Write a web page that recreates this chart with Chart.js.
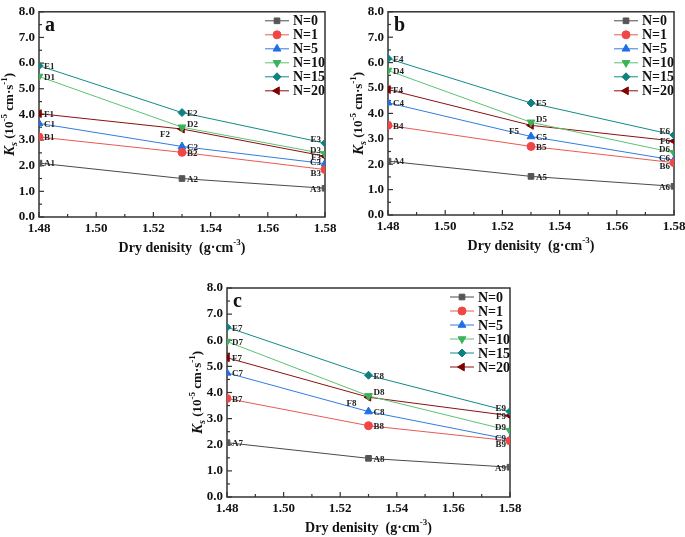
<!DOCTYPE html>
<html>
<head>
<meta charset="utf-8">
<script src="https://cdn.jsdelivr.net/npm/chart.js@4.4.0/dist/chart.umd.min.js"></script>
<style>
  html, body { margin: 0; padding: 0; background: #fff; overflow: hidden; width: 685px; height: 537px; }
  canvas { position: absolute; }
</style>
</head>
<body>
<canvas id="chartA" width="345" height="265" style="left:0px;top:0px"></canvas>
<canvas id="chartB" width="350" height="265" style="left:340px;top:0px"></canvas>
<canvas id="chartC" width="370" height="267" style="left:170px;top:270px"></canvas>
<script>
// dry density values (g/cm3)
const densities = [1.48, 1.53, 1.58];
const seriesNames = ['N=0', 'N=1', 'N=5', 'N=10', 'N=15', 'N=20'];
const seriesLetters = ['A', 'B', 'C', 'D', 'E', 'F'];

// Ks (10^-5 cm/s), one row per series N=0,1,5,10,15,20
const ksA = [
  [2.10, 1.50, 1.12],
  [3.12, 2.52, 1.85],
  [3.65, 2.75, 2.08],
  [5.48, 3.50, 2.46],
  [5.90, 4.07, 2.88],
  [4.03, 3.43, 2.37]
];
const ksB = [
  [2.12, 1.52, 1.13],
  [3.53, 2.70, 2.06],
  [4.42, 3.09, 2.16],
  [5.69, 3.65, 2.45],
  [6.16, 4.41, 3.15],
  [4.94, 3.53, 2.91]
];
const ksC = [
  [2.08, 1.48, 1.14],
  [3.77, 2.73, 2.15],
  [4.75, 3.27, 2.20],
  [5.95, 3.87, 2.54],
  [6.50, 4.66, 3.27],
  [5.33, 3.82, 3.11]
];

const lineColors = ['#4a4a4a', '#e85a55', '#2f7de0', '#5cc274', '#138a8a', '#8b1010'];
const markerColors = ['#555555', '#f04646', '#1f6fe6', '#3cb35a', '#0f8080', '#800000'];
const pointStyles = ['rect', 'circle', 'triangle', 'triangle', 'rectRot', 'triangle'];
const pointRotations = [0, 0, 0, 180, 0, 270];

const SERIF = '"Liberation Serif", "Times New Roman", serif';

function drawRich(ctx, parts) {
  let w = 0;
  parts.forEach(p => { ctx.font = p.font; w += ctx.measureText(p.t).width; });
  let x = -w / 2;
  parts.forEach(p => {
    ctx.font = p.font;
    ctx.fillText(p.t, x, p.dy || 0);
    x += ctx.measureText(p.t).width;
  });
}

const framePlugin = {
  id: 'frame',
  beforeDatasetsDraw(chart) {
    const { ctx, chartArea: a, scales: { x, y } } = chart;
    ctx.save();
    ctx.strokeStyle = '#333';
    ctx.lineWidth = 1.5;
    ctx.strokeRect(a.left, a.top, a.right - a.left, a.bottom - a.top);
    ctx.lineWidth = 1.2;
    const yt = y.ticks.map(t => t.value);
    yt.forEach((v, i) => {
      const py = y.getPixelForValue(v);
      ctx.beginPath(); ctx.moveTo(a.left, py); ctx.lineTo(a.left + 5, py); ctx.stroke();
      if (i < yt.length - 1) {
        const pm = y.getPixelForValue((v + yt[i + 1]) / 2);
        ctx.beginPath(); ctx.moveTo(a.left, pm); ctx.lineTo(a.left + 3, pm); ctx.stroke();
      }
    });
    const xt = x.ticks.map(t => t.value);
    xt.forEach((v, i) => {
      const px = x.getPixelForValue(v);
      ctx.beginPath(); ctx.moveTo(px, a.bottom); ctx.lineTo(px, a.bottom - 5); ctx.stroke();
      if (i < xt.length - 1) {
        const pm = x.getPixelForValue((v + xt[i + 1]) / 2);
        ctx.beginPath(); ctx.moveTo(pm, a.bottom); ctx.lineTo(pm, a.bottom - 3); ctx.stroke();
      }
    });

    // axis titles
    ctx.fillStyle = '#111';
    ctx.textBaseline = 'middle';
    ctx.save();
    ctx.translate(a.left - 29, (a.top + a.bottom) / 2);
    ctx.rotate(-Math.PI / 2);
    drawRich(ctx, [
      { t: 'K', font: 'italic bold 15px ' + SERIF },
      { t: 's', font: 'italic bold 10px ' + SERIF, dy: 4 },
      { t: ' (10', font: 'bold 13px ' + SERIF },
      { t: '-5', font: 'bold 9px ' + SERIF, dy: -5 },
      { t: ' cm\u00b7s', font: 'bold 13px ' + SERIF },
      { t: '-1', font: 'bold 9px ' + SERIF, dy: -5 },
      { t: ')', font: 'bold 13px ' + SERIF }
    ]);
    ctx.restore();
    ctx.save();
    ctx.translate((a.left + a.right) / 2, a.bottom + 31);
    drawRich(ctx, [
      { t: 'Dry denisity  (g\u00b7cm', font: 'bold 14px ' + SERIF },
      { t: '-3', font: 'bold 9px ' + SERIF, dy: -5 },
      { t: ')', font: 'bold 14px ' + SERIF }
    ]);
    ctx.restore();
    ctx.restore();
  }
};

const tagPlugin = {
  id: 'pointTags',
  afterDatasetsDraw(chart, args, opts) {
    const ctx = chart.ctx;
    ctx.save();
    ctx.font = 'bold 9px ' + SERIF;
    ctx.fillStyle = '#222';
    ctx.textBaseline = 'middle';
    chart.data.datasets.forEach((ds, i) => {
      const meta = chart.getDatasetMeta(i);
      meta.data.forEach((pt, j) => {
        const tag = seriesLetters[i] + (opts.start + j);
        let x = pt.x + 5, y = pt.y + 1;
        ctx.textAlign = 'left';
        if (j === 1 && i === 3) { y = pt.y - 3; }
        if (j === 1 && i === 5) { ctx.textAlign = 'right'; x = pt.x - 12; y = pt.y + 6; }
        if (j === 2) {
          ctx.textAlign = 'right';
          x = pt.x - 4;
          if (i === 3 || i === 4) y = pt.y - 3;
          if (i === 2) y = pt.y - 1;
          if (i === 1) y = pt.y + 4;
        }
        ctx.fillText(tag, x, y);
      });
    });
    ctx.restore();
  }
};

const legendPlugin = {
  id: 'insideLegend',
  afterDraw(chart, args, opts) {
    const { ctx, chartArea: a } = chart;
    ctx.save();
    ctx.textBaseline = 'middle';
    chart.data.datasets.forEach((ds, i) => {
      const y = a.top + 9 + i * 14;
      const x0 = a.right - 60;
      ctx.strokeStyle = ds.borderColor;
      ctx.lineWidth = 1;
      ctx.beginPath(); ctx.moveTo(x0, y); ctx.lineTo(x0 + 24, y); ctx.stroke();
      ctx.fillStyle = ds.pointBackgroundColor;
      ctx.strokeStyle = ds.pointBorderColor;
      Chart.helpers.drawPoint(ctx, {
        pointStyle: ds.pointStyle, rotation: ds.pointRotation, radius: ds.pointRadius, borderWidth: 1
      }, x0 + 12, y);
      ctx.fillStyle = '#111';
      ctx.font = 'bold 14px ' + SERIF;
      ctx.textAlign = 'left';
      ctx.fillText(ds.label, x0 + 28, y + 1);
    });
    // panel letter
    ctx.font = 'bold 20px ' + SERIF;
    ctx.textBaseline = 'alphabetic';
    ctx.fillText(opts.letter, a.left + 6, a.top + 19);
    ctx.restore();
  }
};

function makePanel(id, values, start, letter, geo) {
  const datasets = values.map((row, i) => ({
    label: seriesNames[i],
    data: densities.map((d, j) => ({ x: d, y: row[j] })),
    borderColor: lineColors[i],
    backgroundColor: markerColors[i],
    pointBackgroundColor: markerColors[i],
    pointBorderColor: markerColors[i],
    pointStyle: pointStyles[i],
    pointRotation: pointRotations[i],
    pointRadius: pointStyles[i] === 'triangle' ? 4.5 : 4,
    borderWidth: 1,
    tension: 0
  }));

  new Chart(document.getElementById(id).getContext('2d'), {
    type: 'line',
    data: { datasets: datasets },
    options: {
      responsive: false,
      animation: false,
      layout: { padding: { left: 0, right: geo.right, top: geo.top, bottom: 0 } },
      plugins: {
        legend: { display: false },
        tooltip: { enabled: false },
        pointTags: { start: start },
        insideLegend: { letter: letter }
      },
      scales: {
        x: {
          type: 'linear',
          min: 1.48,
          max: 1.58,
          grid: { display: false, drawTicks: false, tickLength: 0 },
          border: { display: false },
          afterFit: s => { s.height = geo.xh; },
          ticks: {
            stepSize: 0.02,
            padding: 4,
            color: '#111',
            font: { family: SERIF, size: 13, weight: 'bold' },
            maxRotation: 0,
            callback: v => Number(v).toFixed(2)
          }
        },
        y: {
          min: 0,
          max: 8,
          grid: { display: false, drawTicks: false, tickLength: 0 },
          border: { display: false },
          afterFit: s => { s.width = geo.yw; },
          ticks: {
            stepSize: 1,
            padding: 4,
            color: '#111',
            font: { family: SERIF, size: 13, weight: 'bold' },
            callback: v => Number(v).toFixed(1)
          }
        }
      }
    },
    plugins: [framePlugin, tagPlugin, legendPlugin]
  });
}

makePanel('chartA', ksA, 1, 'a', { yw: 39, xh: 48, right: 20, top: 5 });
makePanel('chartB', ksB, 4, 'b', { yw: 48, xh: 50, right: 16, top: 5 });
makePanel('chartC', ksC, 7, 'c', { yw: 57, xh: 40, right: 30, top: 18 });
</script>
</body>
</html>
